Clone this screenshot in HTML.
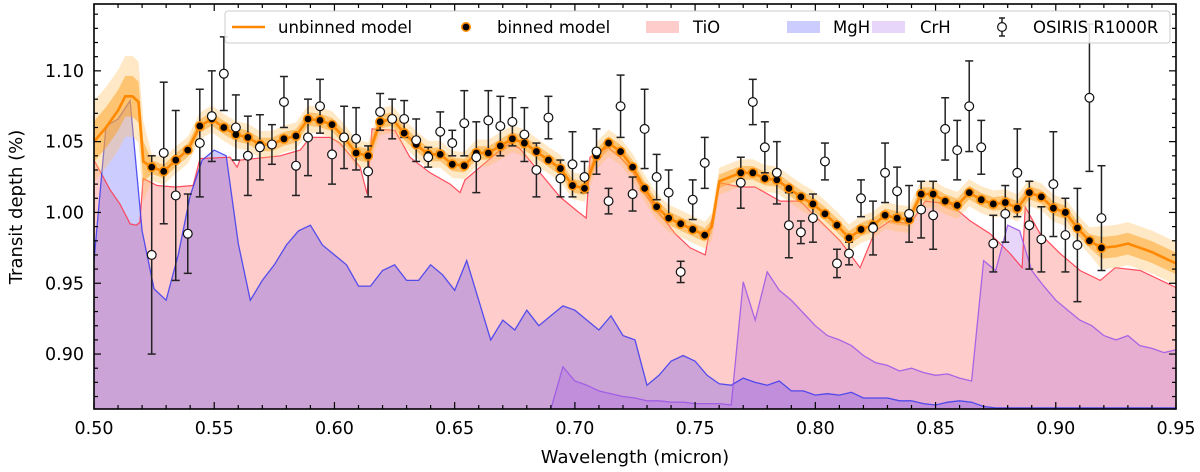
<!DOCTYPE html>
<html><head><meta charset="utf-8">
<style>
html,body{margin:0;padding:0;background:#fff;}
svg{display:block;font-family:"DejaVu Sans","Liberation Sans",sans-serif;}
</style></head>
<body>
<svg id="chart" width="1200" height="472" viewBox="0 0 1200 472" xmlns="http://www.w3.org/2000/svg">
<defs><clipPath id="plotclip"><rect x="94" y="4" width="1082" height="405"/></clipPath></defs>
<g id="plot" clip-path="url(#plotclip)"></g>
<g id="axes"></g>
<g id="legend"></g>
</svg>
<script>
// ---------- data ----------
const binWave = [0.524,0.529,0.534,0.539,0.544,0.549,0.554,0.559,0.564,0.569,0.574,0.579,0.584,0.589,0.594,0.599,0.604,0.609,0.614,0.619,0.624,0.629,0.634,0.639,0.644,0.649,0.654,0.659,0.664,0.669,0.674,0.679,0.684,0.689,0.694,0.699,0.704,0.709,0.714,0.719,0.724,0.729,0.734,0.739,0.744,0.749,0.754,0.759,0.764,0.769,0.774,0.779,0.784,0.789,0.794,0.799,0.804,0.809,0.814,0.819,0.824,0.829,0.834,0.839,0.844,0.849,0.854,0.859,0.864,0.869,0.874,0.879,0.884,0.889,0.894,0.899,0.904,0.909,0.914,0.919];
const binModel = [1.032,1.029,1.037,1.044,1.061,1.066,1.060,1.055,1.053,1.048,1.048,1.052,1.054,1.066,1.065,1.062,1.053,1.042,1.040,1.064,1.066,1.056,1.048,1.041,1.041,1.034,1.033,1.042,1.042,1.047,1.052,1.049,1.043,1.037,1.031,1.019,1.017,1.040,1.049,1.043,1.032,1.017,1.004,0.996,0.992,0.988,0.984,null,null,1.028,1.028,1.024,1.023,1.017,1.011,1.006,0.999,0.991,0.982,0.988,0.991,0.998,0.996,0.995,1.013,1.013,1.008,1.005,1.014,1.009,1.006,1.007,1.003,1.014,1.011,1.003,1.000,0.989,0.980,0.975];
const obsDepth = [0.970,1.042,1.012,0.985,1.049,1.068,1.098,1.060,1.040,1.046,1.048,1.078,1.033,1.053,1.075,1.041,1.053,1.052,1.029,1.071,1.066,1.066,1.051,1.039,1.057,1.049,1.063,1.039,1.065,1.061,1.064,1.055,1.030,1.067,1.024,1.034,1.025,1.043,1.008,1.075,1.013,1.059,1.025,1.014,0.958,1.009,1.035,null,null,1.021,1.078,1.046,1.028,0.991,0.986,0.996,1.036,0.964,0.971,1.010,0.989,1.028,1.015,0.999,1.002,0.998,1.059,1.044,1.075,1.046,0.978,0.999,1.028,0.991,0.981,1.020,0.984,0.977,1.081,0.996];
const obsErr = [0.070,0.050,0.060,0.028,0.038,0.032,0.026,0.023,0.028,0.023,0.014,0.018,0.021,0.027,0.019,0.021,0.022,0.022,0.018,0.013,0.014,0.013,0.015,0.007,0.014,0.009,0.023,0.025,0.021,0.021,0.017,0.019,0.019,0.015,0.013,0.023,0.011,0.016,0.009,0.022,0.012,0.028,0.016,0.016,0.0075,0.014,0.018,null,null,0.018,0.016,0.018,0.022,0.023,0.008,0.017,0.013,0.010,0.008,0.013,0.019,0.021,0.017,0.020,0.020,0.024,0.022,0.021,0.032,0.019,0.020,0.020,0.031,0.031,0.023,0.037,0.026,0.040,0.052,0.037];
const umStartWave = [0.500,0.505,0.510,0.513,0.516,0.5185,0.5205];
const umStartVal  = [1.050,1.060,1.072,1.082,1.082,1.078,1.036];
const umGapWave = [0.757,0.760];
const umGapVal  = [0.990,1.022];
const umEndWave = [0.925,0.930,0.935,0.940,0.945,0.950];
const umEndVal  = [0.976,0.978,0.975,0.972,0.968,0.964];
const tioWave = [0.500,0.5067,0.5108,0.515,0.5175,0.5191,0.5204,0.5262,0.5337,0.5412,0.5441,0.5566,0.5595,0.5607,0.5774,0.5857,0.5899,0.5982,0.6023,0.6107,0.6136,0.6156,0.6252,0.6314,0.6398,0.6481,0.6522,0.6543,0.6606,0.6689,0.6730,0.6772,0.6855,0.6938,0.7009,0.7047,0.7063,0.7138,0.7188,0.7238,0.7292,0.7354,0.7417,0.7479,0.7542,0.7562,0.7604,0.7687,0.775,0.7854,0.7937,0.802,0.8103,0.8186,0.8249,0.8311,0.8394,0.8457,0.8561,0.8644,0.8727,0.881,0.886,0.8873,0.8935,0.9018,0.9101,0.9185,0.9247,0.9351,0.950];
const tioDepth = [1.037,1.016,1.006,0.992,0.991,0.993,1.024,1.019,1.018,1.019,1.038,1.039,1.032,1.037,1.040,1.044,1.053,1.053,1.049,1.032,1.013,1.059,1.058,1.039,1.028,1.020,1.014,1.023,1.032,1.044,1.049,1.045,1.028,1.011,1.001,0.996,1.039,1.046,1.039,1.030,1.013,0.999,0.985,0.975,0.970,0.989,1.021,1.018,1.018,1.008,1.008,0.994,0.980,0.961,0.987,0.994,0.992,1.008,1.006,0.994,0.985,0.971,0.961,1.004,0.985,0.971,0.959,0.952,0.961,0.959,0.947];
const molWave = [0.500,0.505,0.510,0.515,0.520,0.525,0.530,0.535,0.540,0.545,0.550,0.555,0.560,0.565,0.570,0.575,0.580,0.585,0.590,0.595,0.600,0.605,0.610,0.615,0.620,0.625,0.630,0.635,0.640,0.645,0.650,0.655,0.660,0.665,0.670,0.675,0.680,0.685,0.690,0.695,0.700,0.705,0.710,0.715,0.720,0.725,0.730,0.735,0.740,0.745,0.750,0.755,0.760,0.765,0.770,0.775,0.780,0.785,0.790,0.795,0.800,0.805,0.810,0.815,0.820,0.825,0.830,0.835,0.840,0.845,0.850,0.855,0.860,0.865,0.870,0.875,0.880,0.885,0.890,0.895,0.900,0.905,0.910,0.915,0.920,0.925,0.930,0.935,0.940,0.945,0.950];
const mghDepth = [0.966,1.061,1.066,1.079,0.987,0.946,0.938,0.970,1.012,1.037,1.044,1.040,0.978,0.938,0.952,0.963,0.977,0.987,0.991,0.977,0.970,0.963,0.948,0.948,0.959,0.963,0.952,0.952,0.963,0.956,0.945,0.966,0.938,0.910,0.924,0.917,0.931,0.920,0.927,0.934,0.931,0.924,0.917,0.927,0.913,0.910,0.878,0.885,0.895,0.899,0.895,0.885,0.879,0.878,0.883,0.880,0.878,0.881,0.874,0.874,0.871,0.872,0.871,0.873,0.869,0.869,0.869,0.867,0.867,0.865,0.864,0.866,0.867,0.866,0.863,0.862,0.862,0.862,0.862,0.862,0.862,0.862,0.862,0.862,0.862,0.862,0.862,0.862,0.862,0.862,0.862];
const crhDepth = [0.861,0.861,0.861,0.861,0.861,0.861,0.861,0.861,0.861,0.861,0.861,0.861,0.861,0.861,0.861,0.861,0.861,0.861,0.861,0.861,0.861,0.861,0.861,0.861,0.861,0.861,0.861,0.861,0.861,0.861,0.861,0.861,0.861,0.861,0.861,0.861,0.861,0.861,0.861,0.891,0.881,0.878,0.874,0.872,0.870,0.869,0.867,0.867,0.866,0.866,0.865,0.865,0.865,0.864,0.951,0.924,0.958,0.945,0.938,0.929,0.920,0.913,0.910,0.906,0.899,0.894,0.892,0.888,0.890,0.887,0.885,0.886,0.883,0.881,0.966,0.959,0.991,0.987,0.959,0.948,0.938,0.931,0.924,0.920,0.913,0.910,0.913,0.906,0.904,0.901,0.903];
const xTicks = [0.50,0.55,0.60,0.65,0.70,0.75,0.80,0.85,0.90,0.95];
const xTickLabels = ["0.50","0.55","0.60","0.65","0.70","0.75","0.80","0.85","0.90","0.95"];
const yTicks = [0.90,0.95,1.00,1.05,1.10];
const yTickLabels = ["0.90","0.95","1.00","1.05","1.10"];

// ---------- scales ----------
const X0=94, X1=1176, Y0=409, Y1=4;
const XMIN=0.50, XMAX=0.95, YMIN=0.8612, YMAX=1.1472;
function xs(w){return X0+(w-XMIN)/(XMAX-XMIN)*(X1-X0);}
function ys(v){return Y0-(v-YMIN)/(YMAX-YMIN)*(Y0-Y1);}
const NS="http://www.w3.org/2000/svg";
function mk(tag,attrs,parent){const e=document.createElementNS(NS,tag);for(const k in attrs)e.setAttribute(k,attrs[k]);parent.appendChild(e);return e;}
const plot=document.getElementById('plot'), axes=document.getElementById('axes'), legend=document.getElementById('legend');
function linePts(W,V){return W.map((w,i)=>xs(w).toFixed(1)+','+ys(V[i]).toFixed(1)).join(' ');}
function areaPts(W,V){return xs(W[0]).toFixed(1)+','+Y0+' '+linePts(W,V)+' '+xs(W[W.length-1]).toFixed(1)+','+Y0;}

let e;
e=mk('polygon',{points:areaPts(tioWave,tioDepth),fill:'#ffcccc',stroke:'none'},plot);


e=mk('polygon',{points:areaPts(molWave,mghDepth),fill:'rgba(0,0,255,0.2)',stroke:'none'},plot);


e=mk('polygon',{points:areaPts(molWave,crhDepth),fill:'rgba(150,70,230,0.22)',stroke:'none'},plot);


e=mk('polyline',{points:linePts(tioWave,tioDepth),fill:'none',stroke:'#ff3344',"stroke-width":1.2,opacity:0.85},plot);


e=mk('polyline',{points:linePts(molWave,mghDepth),fill:'none',stroke:'#3a3af0',"stroke-width":1.3,opacity:0.85},plot);


e=mk('polyline',{points:linePts(molWave,crhDepth),fill:'none',stroke:'#9a55e6',"stroke-width":1.3,opacity:0.85},plot);



const umW=[],umV=[];
umStartWave.forEach((w,i)=>{umW.push(w);umV.push(umStartVal[i]);});
binWave.forEach((w,i)=>{
  if(binModel[i]!==null){umW.push(w);umV.push(binModel[i]);}
  if(i===46){umGapWave.forEach((g,j)=>{umW.push(g);umV.push(umGapVal[j]);});}
});
umEndWave.forEach((w,i)=>{umW.push(w);umV.push(umEndVal[i]);});
function bandPts(scale){
  const hw=umW.map(w=>(w<0.522?3.0:(w>0.915?1.6:1))*scale);
  const up=umW.map((w,i)=>xs(w).toFixed(1)+','+ys(umV[i]+hw[i]).toFixed(1));
  const dn=umW.map((w,i)=>xs(w).toFixed(1)+','+ys(umV[i]-hw[i]).toFixed(1)).reverse();
  return up.concat(dn).join(' ');
}
e=mk('polygon',{points:bandPts(0.0095),fill:'rgba(255,190,90,0.35)'},plot);


e=mk('polygon',{points:bandPts(0.0048),fill:'rgba(255,160,30,0.5)'},plot);


e=mk('polyline',{points:linePts(umW,umV),fill:'none',stroke:'#ff8800',"stroke-width":2.6},plot);



obsDepth.forEach((v,i)=>{
  if(v===null)return;
  const x=xs(binWave[i]), yt=ys(v+obsErr[i]), yb=ys(v-obsErr[i]);
  const g=mk('g',{},plot);
  
  
  mk('line',{x1:x,x2:x,y1:yt,y2:yb,stroke:'#222',"stroke-width":1.5},g);
  mk('line',{x1:x-4,x2:x+4,y1:yt,y2:yt,stroke:'#222',"stroke-width":1.5},g);
  mk('line',{x1:x-4,x2:x+4,y1:yb,y2:yb,stroke:'#222',"stroke-width":1.5},g);
});
binModel.forEach((v,i)=>{
  if(v===null)return;
  const c=mk('circle',{cx:xs(binWave[i]),cy:ys(v),r:4.2,fill:'#000',stroke:'#ff8c00',"stroke-width":1.6},plot);
  
  
});
obsDepth.forEach((v,i)=>{
  if(v===null)return;
  const c=mk('circle',{cx:xs(binWave[i]),cy:ys(v),r:4.4,fill:'#fff',stroke:'#111',"stroke-width":1.2},plot);
  
  
});

// ---------- axes ----------
e=mk('rect',{x:X0,y:Y1,width:X1-X0,height:Y0-Y1,fill:'none',stroke:'#000',"stroke-width":1.6},axes);


for(let k=0;k<=45;k++){
  const w=0.50+k*0.01, x=xs(w), major=(k%5===0), L=major?7:4;
  mk('line',{x1:x,x2:x,y1:Y0,y2:Y0-L,stroke:'#000',"stroke-width":1.2},axes);
  mk('line',{x1:x,x2:x,y1:Y1,y2:Y1+L,stroke:'#000',"stroke-width":1.2},axes);
}
for(let k=87;k<=114;k++){
  const v=k*0.01, y=ys(v), major=(k%5===0), L=major?7:4;
  mk('line',{x1:X0,x2:X0+L,y1:y,y2:y,stroke:'#000',"stroke-width":1.2},axes);
  mk('line',{x1:X1,x2:X1-L,y1:y,y2:y,stroke:'#000',"stroke-width":1.2},axes);
}
xTicks.forEach((w,i)=>{
  const t=mk('text',{x:xs(w),y:434,"text-anchor":"middle","font-size":17.5,fill:'#000'},axes);
  t.textContent=xTickLabels[i];
  
  
});
yTicks.forEach((v,i)=>{
  const t=mk('text',{x:84,y:ys(v)+6,"text-anchor":"end","font-size":17.5,fill:'#000'},axes);
  t.textContent=yTickLabels[i];
  
  
});
e=mk('text',{x:635,y:463,"text-anchor":"middle","font-size":18,fill:'#000'},axes);
e.textContent='Wavelength (micron)';


e=mk('text',{x:0,y:0,"text-anchor":"middle","font-size":18,fill:'#000',transform:'translate(22,207) rotate(-90)'},axes);
e.textContent='Transit depth (%)';



// ---------- legend ----------
e=mk('rect',{x:225,y:11,width:945,height:32,rx:3,fill:'rgba(255,255,255,0.85)',stroke:'#ccc',"stroke-width":1},legend);


function ltext(x,s,name){const t=mk('text',{x:x,y:33,"font-size":16.5,fill:'#000'},legend);t.textContent=s;}
e=mk('line',{x1:232,x2:265,y1:27,y2:27,stroke:'#ff8800',"stroke-width":2.6},legend);


ltext(278,'unbinned model','legend-unbinned-label');
e=mk('circle',{cx:466,cy:27,r:4.2,fill:'#000',stroke:'#ff8c00',"stroke-width":1.6},legend);


ltext(497,'binned model','legend-binned-label');
e=mk('rect',{x:646,y:21,width:33,height:12,fill:'#ffcccc'},legend);


ltext(693,'TiO','legend-tio-label');
e=mk('rect',{x:787,y:21,width:33,height:12,fill:'rgba(0,0,255,0.2)'},legend);


ltext(833,'MgH','legend-mgh-label');
e=mk('rect',{x:872,y:21,width:33,height:12,fill:'rgba(150,70,230,0.22)'},legend);


ltext(920,'CrH','legend-crh-label');
const lg=mk('g',{},legend);


mk('line',{x1:1002,x2:1002,y1:18,y2:36,stroke:'#222',"stroke-width":1.5},lg);
mk('line',{x1:999,x2:1005,y1:18,y2:18,stroke:'#222',"stroke-width":1.5},lg);
mk('line',{x1:999,x2:1005,y1:36,y2:36,stroke:'#222',"stroke-width":1.5},lg);
mk('circle',{cx:1002,cy:27,r:4.4,fill:'#fff',stroke:'#111',"stroke-width":1.2},lg);
ltext(1033,'OSIRIS R1000R','legend-osiris-label');
</script>
</body></html>
